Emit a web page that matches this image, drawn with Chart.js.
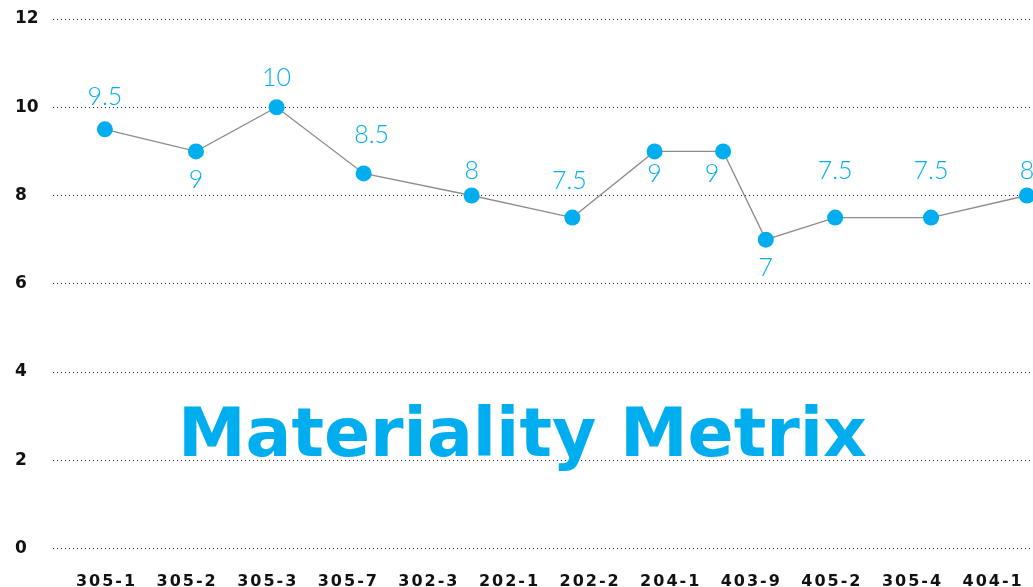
<!DOCTYPE html>
<html>
<head>
<meta charset="utf-8">
<title>Materiality Metrix</title>
<script src="https://cdn.jsdelivr.net/npm/chart.js@4.4.1/dist/chart.umd.min.js"></script>
<style>
  html, body { margin: 0; padding: 0; background: #ffffff; }
  #wrap { width: 1033px; height: 587px; position: relative; }
</style>
</head>
<body>
<div id="wrap"><canvas id="chart" width="1033" height="587"></canvas></div>
<script>
// Disclosure codes shown along the bottom axis
const categories = ['305-1', '305-2', '305-3', '305-7', '302-3', '202-1', '202-2', '204-1', '403-9', '405-2', '305-4', '404-1'];
// Horizontal placement of each rated item, in category units (0 = first code)
const itemPositions = [-0.02, 1.11, 2.11, 3.19, 4.53, 5.78, 6.80, 7.65, 8.18, 9.04, 10.23, 11.42];
// Materiality score of each item
const scores = [9.5, 9, 10, 8.5, 8, 7.5, 9, 9, 7, 7.5, 7.5, 8];
// Value axis ticks
const yTicks = [0, 2, 4, 6, 8, 10, 12];

// Where each score caption sits relative to its point [dx, dy] in px
const captionOffsets = [[0, -33], [0, 28], [0, -30], [8, -39], [0, -26], [-3, -38], [0, 22], [-11, 22], [0, 27], [0, -48], [0, -48], [0, -26]];

const CYAN = '#00aeef';

const titlePlugin = {
  id: 'centerTitle',
  beforeDatasetsDraw(chart) {
    const { ctx, chartArea, scales } = chart;
    ctx.save();
    ctx.font = 'bold 68px "DejaVu Sans", sans-serif';
    ctx.fillStyle = CYAN;
    ctx.textAlign = 'center';
    ctx.textBaseline = 'alphabetic';
    const x = chartArea.left + chartArea.width * 0.479;
    const y = scales.y.getPixelForValue(2) - 4;
    ctx.fillText('Materiality Metrix', x, y);
    ctx.restore();
  }
};

const captionPlugin = {
  id: 'scoreCaptions',
  afterDatasetsDraw(chart) {
    const { ctx } = chart;
    const meta = chart.getDatasetMeta(0);
    ctx.save();
    ctx.font = '300 25px Lato, "Open Sans", sans-serif';
    ctx.fillStyle = CYAN;
    ctx.textAlign = 'center';
    ctx.textBaseline = 'alphabetic';
    meta.data.forEach((pt, i) => {
      const [dx, dy] = captionOffsets[i];
      ctx.fillText(String(scores[i]), pt.x + dx, pt.y + dy + 9);
    });
    ctx.restore();
  }
};

// Wider tracking for the code labels on the bottom axis
const trackingPlugin = {
  id: 'xLabelTracking',
  beforeDraw(chart) {
    const sc = chart.scales.x;
    if (sc && !sc._tracked) {
      const orig = sc.drawLabels;
      sc.drawLabels = function (area) {
        const c = this.ctx;
        c.save();
        c.letterSpacing = '2px';
        orig.call(this, area);
        c.restore();
      };
      sc._tracked = true;
    }
  }
};

new Chart(document.getElementById('chart'), {
  type: 'line',
  data: {
    datasets: [{
      data: itemPositions.map((x, i) => ({ x, y: scores[i] })),
      borderColor: '#8c8c8c',
      borderWidth: 1.3,
      pointRadius: 8,
      pointHoverRadius: 8,
      pointBackgroundColor: CYAN,
      pointBorderWidth: 0,
      tension: 0,
      fill: false,
      clip: false
    }]
  },
  options: {
    responsive: false,
    animation: false,
    events: [],
    layout: { autoPadding: false, padding: { left: 15, right: 0, top: 19, bottom: 0 } },
    plugins: {
      legend: { display: false },
      tooltip: { enabled: false },
      title: { display: false }
    },
    scales: {
      x: {
        type: 'linear',
        min: -0.664,
        max: 11.495,
        grid: { display: false, drawTicks: false },
        border: { display: false },
        afterBuildTicks(scale) {
          scale.ticks = categories.map((_, i) => ({ value: i }));
        },
        afterFit(scale) {
          scale.height = 38.5;
          scale.paddingLeft = 0;
          scale.paddingRight = 0;
        },
        ticks: {
          autoSkip: false,
          maxRotation: 0,
          padding: 24,
          color: '#111111',
          font: { family: '"DejaVu Sans", sans-serif', size: 16, weight: 'bold' },
          callback: (v) => categories[v] ?? ''
        }
      },
      y: {
        min: 0,
        max: 12,
        afterBuildTicks(scale) {
          scale.ticks = yTicks.map(v => ({ value: v }));
        },
        afterFit(scale) { scale.width = 38; },
        grid: { color: '#1a1a1a', lineWidth: 1, drawTicks: false },
        border: { display: false, dash: [1, 3] },
        ticks: {
          crossAlign: 'far',
          padding: 0,
          color: '#111111',
          font: { family: '"DejaVu Sans", sans-serif', size: 17, weight: 'bold' }
        }
      }
    }
  },
  plugins: [titlePlugin, captionPlugin, trackingPlugin]
});
</script>
</body>
</html>
